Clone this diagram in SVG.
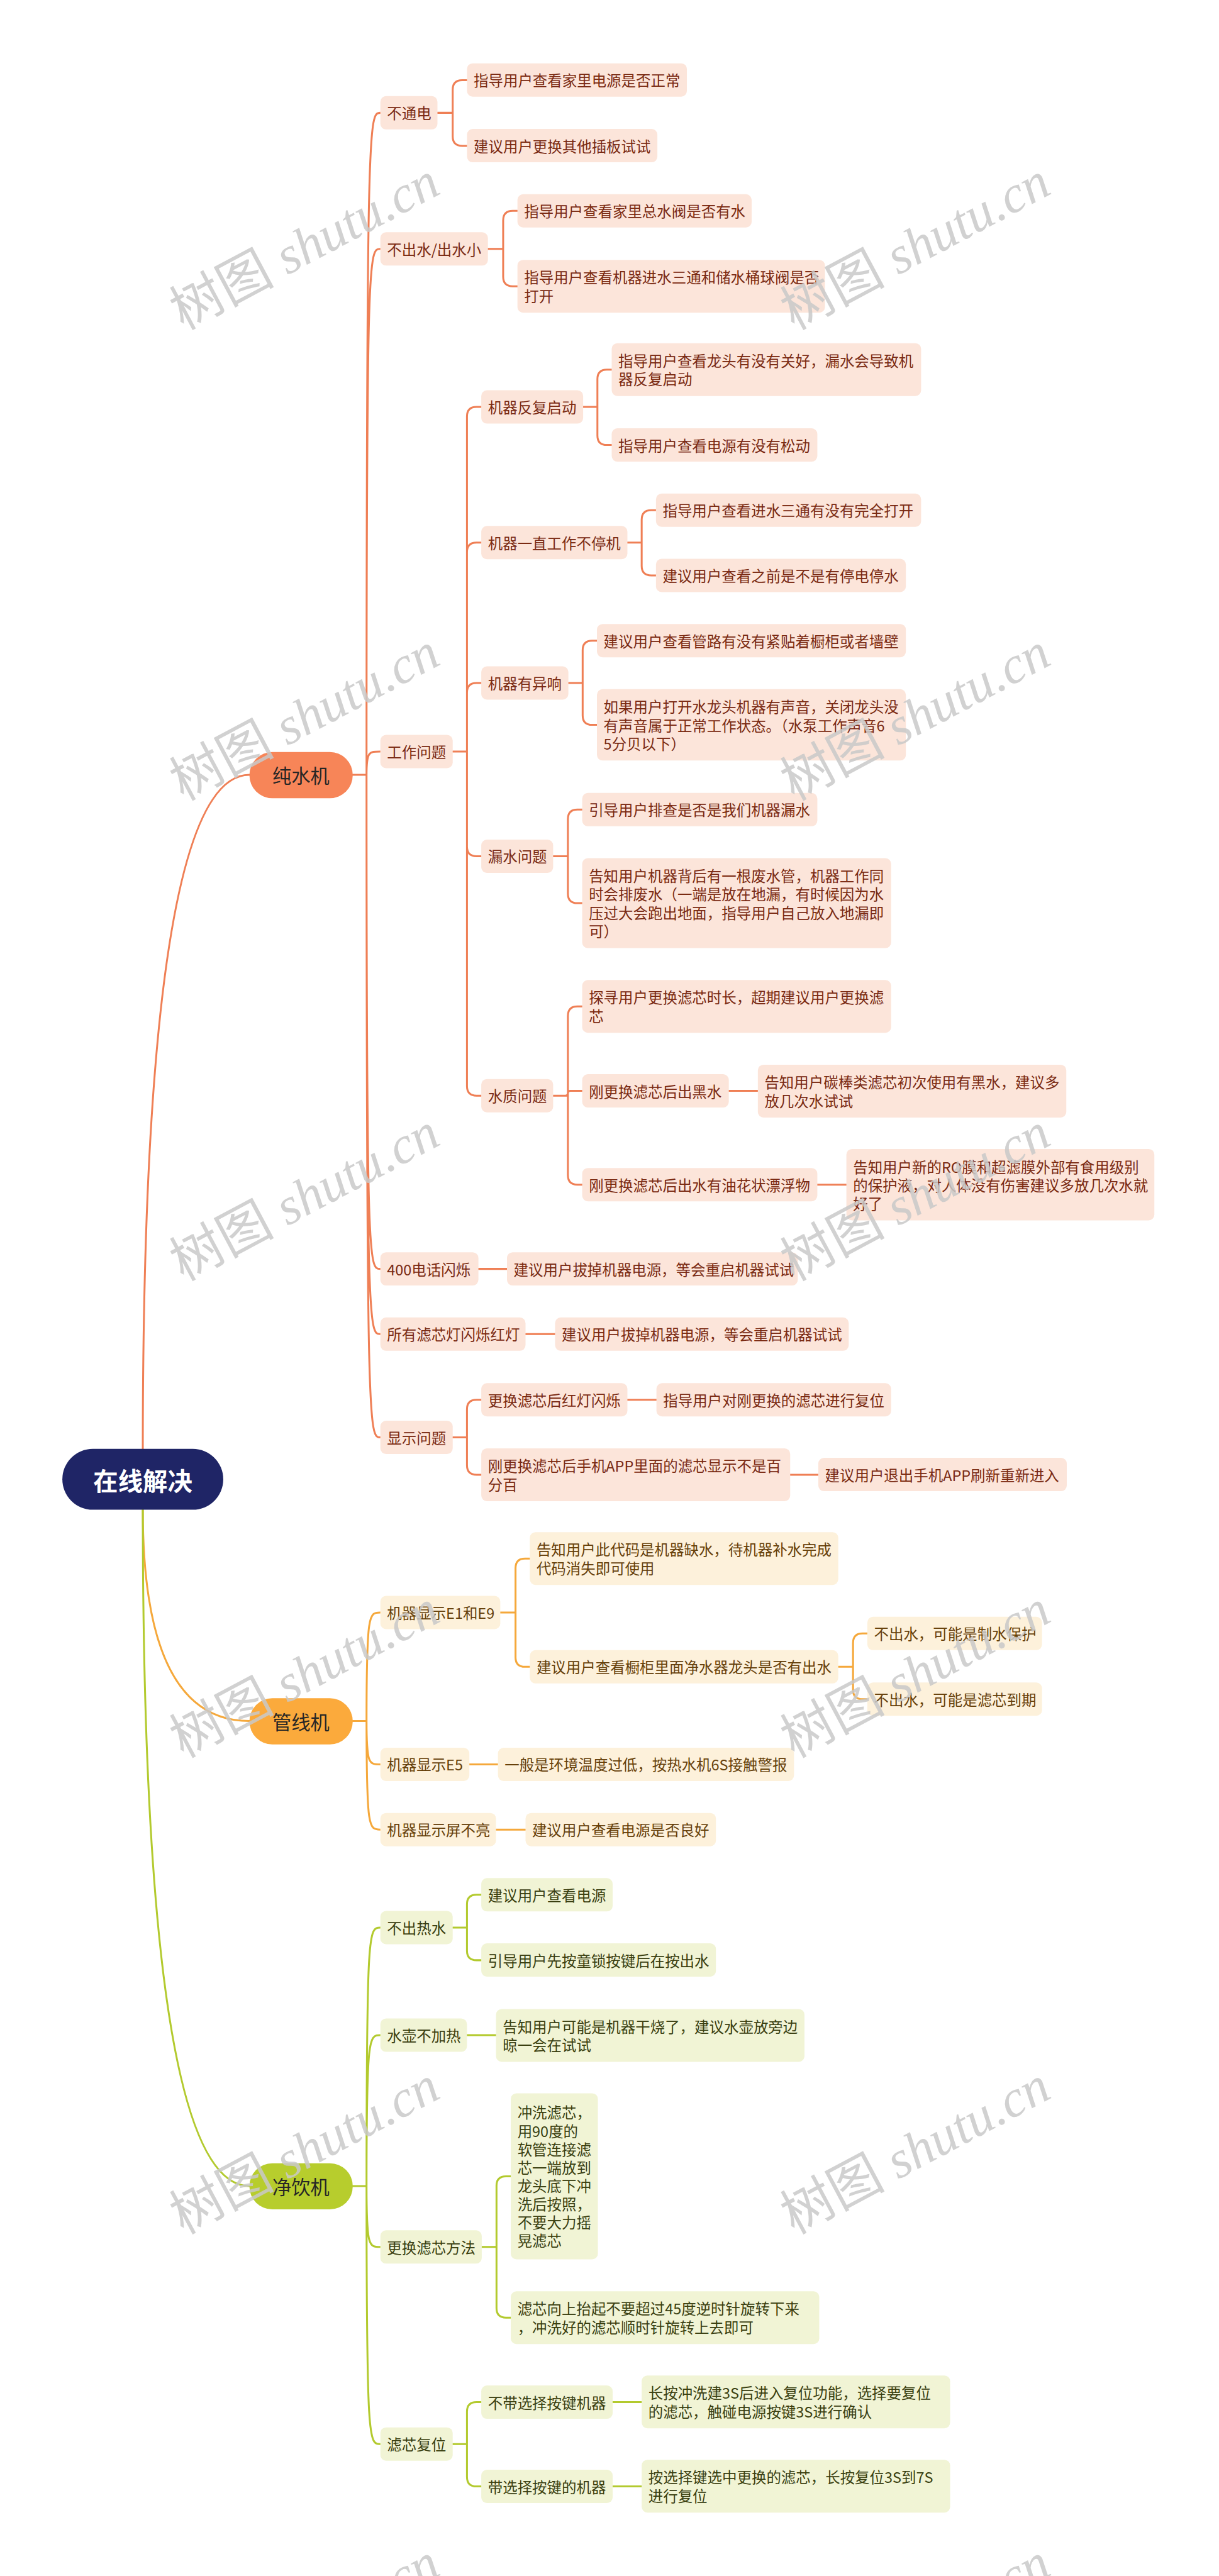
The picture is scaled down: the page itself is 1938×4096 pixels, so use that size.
<svg xmlns="http://www.w3.org/2000/svg" width="1938" height="4096" viewBox="0 0 1938 4096">
<style>
text{font-family:"Noto Sans CJK SC","Liberation Sans",sans-serif;}
.t{font-size:31px;dominant-baseline:central;}
.b1{fill:#FCE5DA;}.b2{fill:#FDF1DB;}.b3{fill:#F1F4D5;}
.x1{fill:#7A2A12;}.x2{fill:#66400A;}.x3{fill:#3A3F10;}
.c{fill:none;stroke-width:4;stroke-linecap:round;}
.c1{stroke:#EF7F55;}.c2{stroke:#F5A83B;}.c3{stroke:#B3CA2E;}
.pill{font-size:40px;fill:#262626;text-anchor:middle;dominant-baseline:central;}
.wm{font-family:"Liberation Serif","Noto Sans CJK SC",serif;font-size:110px;fill:#c9c9c9;opacity:0.85;text-anchor:middle;dominant-baseline:central;}
</style>
<rect width="1938" height="4096" fill="#ffffff"/>
<g transform="scale(0.7568)">
<g id="connectors">
<path class="c c1" d="M300 3044 C300 2200 360 1628 524 1628"/>
<path class="c c2" d="M300 3172 C300 3438 360 3616 524 3616"/>
<path class="c c3" d="M300 3172 C300 4025 360 4593 524 4593"/>
<path class="c c1" d="M741 1628 H770 M770 1628 C770 237 775 237 799 237 M770 1628 C770 523 775 523 799 523 M770 1628 C770 1579 775 1579 799 1579 M770 1628 C770 2666 775 2666 799 2666 M770 1628 C770 2803 775 2803 799 2803 M770 1628 C770 3020 775 3020 799 3020"/>
<path class="c c1" d="M919 237 H951 V188.5 Q951 168.5 971 168.5 H981 M951 237 V286.5 Q951 306.5 971 306.5 H981"/>
<path class="c c1" d="M1025 523 H1057 V463 Q1057 443 1077 443 H1087 M1057 523 V581.5 Q1057 601.5 1077 601.5 H1087"/>
<path class="c c1" d="M951 1579 H981 V875 Q981 855 1001 855 H1011 M981 1579 V1160 Q981 1140 1001 1140 H1011 M981 1579 V1455 Q981 1435 1001 1435 H1011 M981 1579 V1779 Q981 1799 1001 1799 H1011 M981 1579 V2282 Q981 2302 1001 2302 H1011"/>
<path class="c c1" d="M1225 855 H1255 V796.5 Q1255 776.5 1275 776.5 H1285 M1255 855 V915 Q1255 935 1275 935 H1285"/>
<path class="c c1" d="M1318 1140 H1348 V1092 Q1348 1072 1368 1072 H1378 M1348 1140 V1189 Q1348 1209 1368 1209 H1378"/>
<path class="c c1" d="M1194 1435 H1224 V1366 Q1224 1346 1244 1346 H1254 M1224 1435 V1503 Q1224 1523 1244 1523 H1254"/>
<path class="c c1" d="M1162 1799 H1193 V1721 Q1193 1701 1213 1701 H1223 M1193 1799 V1877.5 Q1193 1897.5 1213 1897.5 H1223"/>
<path class="c c1" d="M1162 2302 H1193 V2134.5 Q1193 2114.5 1213 2114.5 H1223 M1188 2302 Q1193 2302 1193 2297 Q1193 2292 1198 2292 H1223 M1193 2302 V2469 Q1193 2489 1213 2489 H1223"/>
<path class="c c1" d="M1531 2292 H1592 M1717 2489 H1778 M1005 2666 H1065 M1104 2803 H1166"/>
<path class="c c1" d="M951 3020 H981 V2961 Q981 2941 1001 2941 H1011 M981 3020 V3078.5 Q981 3098.5 1001 3098.5 H1011 M1318 2941 H1379 M1660 3098.5 H1719"/>
<path class="c c2" d="M741 3616 H770 M770 3616 C770 3388 775 3388 799 3388 M770 3616 C770 3707 775 3707 799 3707 M770 3616 C770 3844 775 3844 799 3844"/>
<path class="c c2" d="M1051 3388 H1083 V3294.5 Q1083 3274.5 1103 3274.5 H1113 M1083 3388 V3482 Q1083 3502 1103 3502 H1113"/>
<path class="c c2" d="M1761 3502 H1792 V3452 Q1792 3432 1812 3432 H1822 M1792 3502 V3550 Q1792 3570 1812 3570 H1822"/>
<path class="c c2" d="M986 3707 H1046 M1042 3844 H1104"/>
<path class="c c3" d="M741 4593 H770 M770 4593 C770 4050 775 4050 799 4050 M770 4593 C770 4276 775 4276 799 4276 M770 4593 C770 4721 775 4721 799 4721 M770 4593 C770 5135 775 5135 799 5135"/>
<path class="c c3" d="M951 4050 H981 V4001 Q981 3981 1001 3981 H1011 M981 4050 V4098.5 Q981 4118.5 1001 4118.5 H1011"/>
<path class="c c3" d="M981 4276 H1042"/>
<path class="c c3" d="M1012 4721 H1043 V4592.5 Q1043 4572.5 1063 4572.5 H1073 M1043 4721 V4849.5 Q1043 4869.5 1063 4869.5 H1073"/>
<path class="c c3" d="M951 5135 H981 V5067 Q981 5047 1001 5047 H1011 M981 5135 V5204 Q981 5224 1001 5224 H1011 M1287 5047 H1348 M1287 5224 H1348"/>
</g>
<g id="root"><rect x="131" y="3044" width="338" height="128" rx="64" fill="#1F2566"/><text x="300" y="3108" font-size="52" font-weight="bold" fill="#ffffff" text-anchor="middle" dominant-baseline="central">在线解决</text></g>
<g id="p1"><rect x="524" y="1580" width="217" height="97" rx="48" fill="#F78558"/><text class="pill" x="632" y="1628">纯水机</text></g>
<g id="p2"><rect x="524" y="3568" width="217" height="97" rx="48" fill="#FBAA3C"/><text class="pill" x="632" y="3616">管线机</text></g>
<g id="p3"><rect x="524" y="4545" width="217" height="97" rx="48" fill="#B7CD2D"/><text class="pill" x="632" y="4593">净饮机</text></g>

<g id="n1"><rect class="b1" x="799" y="202" width="120" height="70" rx="12"/><text class="t x1" x="813" y="237">不通电</text></g>
<g id="n1a"><rect class="b1" x="981" y="133" width="462" height="70" rx="12"/><text class="t x1" x="995" y="168">指导用户查看家里电源是否正常</text></g>
<g id="n1b"><rect class="b1" x="981" y="271" width="400" height="70" rx="12"/><text class="t x1" x="995" y="306">建议用户更换其他插板试试</text></g>
<g id="n2"><rect class="b1" x="799" y="488" width="226" height="70" rx="12"/><text class="t x1" x="813" y="523">不出水/出水小</text></g>
<g id="n2a"><rect class="b1" x="1087" y="408" width="492" height="70" rx="12"/><text class="t x1" x="1101" y="443">指导用户查看家里总水阀是否有水</text></g>
<g id="n2b"><rect class="b1" x="1087" y="546" width="646" height="111" rx="12"/><text class="t x1"><tspan x="1101" y="582">指导用户查看机器进水三通和储水桶球阀是否</tspan><tspan x="1101" y="621">打开</tspan></text></g>
<g id="n3"><rect class="b1" x="799" y="1544" width="152" height="70" rx="12"/><text class="t x1" x="813" y="1579">工作问题</text></g>
<g id="n3a"><rect class="b1" x="1011" y="820" width="214" height="70" rx="12"/><text class="t x1" x="1025" y="855">机器反复启动</text></g>
<g id="n3a1"><rect class="b1" x="1285" y="721" width="650" height="111" rx="12"/><text class="t x1"><tspan x="1299" y="757">指导用户查看龙头有没有关好，漏水会导致机</tspan><tspan x="1299" y="796">器反复启动</tspan></text></g>
<g id="n3a2"><rect class="b1" x="1285" y="900" width="432" height="70" rx="12"/><text class="t x1" x="1299" y="935">指导用户查看电源有没有松动</text></g>
<g id="n3b"><rect class="b1" x="1011" y="1105" width="307" height="70" rx="12"/><text class="t x1" x="1025" y="1140">机器一直工作不停机</text></g>
<g id="n3b1"><rect class="b1" x="1378" y="1037" width="557" height="70" rx="12"/><text class="t x1" x="1392" y="1072">指导用户查看进水三通有没有完全打开</text></g>
<g id="n3b2"><rect class="b1" x="1378" y="1174" width="525" height="70" rx="12"/><text class="t x1" x="1392" y="1209">建议用户查看之前是不是有停电停水</text></g>
<g id="n3c"><rect class="b1" x="1011" y="1400" width="183" height="70" rx="12"/><text class="t x1" x="1025" y="1435">机器有异响</text></g>
<g id="n3c1"><rect class="b1" x="1254" y="1311" width="649" height="70" rx="12"/><text class="t x1" x="1268" y="1346">建议用户查看管路有没有紧贴着橱柜或者墙壁</text></g>
<g id="n3c2"><rect class="b1" x="1254" y="1448" width="649" height="150" rx="12"/><text class="t x1"><tspan x="1268" y="1484.5">如果用户打开水龙头机器有声音，关闭龙头没</tspan><tspan x="1268" y="1523">有声音属于正常工作状态。（水泵工作声音6</tspan><tspan x="1268" y="1561.5">5分贝以下）</tspan></text></g>
<g id="n3d"><rect class="b1" x="1011" y="1764" width="151" height="70" rx="12"/><text class="t x1" x="1025" y="1799">漏水问题</text></g>
<g id="n3d1"><rect class="b1" x="1223" y="1666" width="494" height="70" rx="12"/><text class="t x1" x="1237" y="1701">引导用户排查是否是我们机器漏水</text></g>
<g id="n3d2"><rect class="b1" x="1223" y="1803" width="649" height="189" rx="12"/><text class="t x1"><tspan x="1237" y="1839.75">告知用户机器背后有一根废水管，机器工作同</tspan><tspan x="1237" y="1878.25">时会排废水（一端是放在地漏，有时候因为水</tspan><tspan x="1237" y="1916.75">压过大会跑出地面，指导用户自己放入地漏即</tspan><tspan x="1237" y="1955.25">可）</tspan></text></g>
<g id="n3e"><rect class="b1" x="1011" y="2267" width="151" height="70" rx="12"/><text class="t x1" x="1025" y="2302">水质问题</text></g>
<g id="n3e1"><rect class="b1" x="1223" y="2059" width="649" height="111" rx="12"/><text class="t x1"><tspan x="1237" y="2095">探寻用户更换滤芯时长，超期建议用户更换滤</tspan><tspan x="1237" y="2134">芯</tspan></text></g>
<g id="n3e2"><rect class="b1" x="1223" y="2257" width="308" height="70" rx="12"/><text class="t x1" x="1237" y="2292">刚更换滤芯后出黑水</text></g>
<g id="n3e2a"><rect class="b1" x="1592" y="2237" width="648" height="111" rx="12"/><text class="t x1"><tspan x="1606" y="2273">告知用户碳棒类滤芯初次使用有黑水，建议多</tspan><tspan x="1606" y="2312">放几次水试试</tspan></text></g>
<g id="n3e3"><rect class="b1" x="1223" y="2454" width="494" height="70" rx="12"/><text class="t x1" x="1237" y="2489">刚更换滤芯后出水有油花状漂浮物</text></g>
<g id="n3e3a"><rect class="b1" x="1778" y="2414" width="647" height="150" rx="12"/><text class="t x1"><tspan x="1792" y="2450.5">告知用户新的RO膜和超滤膜外部有食用级别</tspan><tspan x="1792" y="2489">的保护液，对人体没有伤害建议多放几次水就</tspan><tspan x="1792" y="2527.5">好了</tspan></text></g>
<g id="n4"><rect class="b1" x="799" y="2631" width="206" height="70" rx="12"/><text class="t x1" x="813" y="2666">400电话闪烁</text></g>
<g id="n4a"><rect class="b1" x="1065" y="2631" width="611" height="70" rx="12"/><text class="t x1" x="1079" y="2666">建议用户拔掉机器电源，等会重启机器试试</text></g>
<g id="n5"><rect class="b1" x="799" y="2768" width="305" height="70" rx="12"/><text class="t x1" x="813" y="2803">所有滤芯灯闪烁红灯</text></g>
<g id="n5a"><rect class="b1" x="1166" y="2768" width="617" height="70" rx="12"/><text class="t x1" x="1180" y="2803">建议用户拔掉机器电源，等会重启机器试试</text></g>
<g id="n6"><rect class="b1" x="799" y="2985" width="152" height="70" rx="12"/><text class="t x1" x="813" y="3020">显示问题</text></g>
<g id="n6a"><rect class="b1" x="1011" y="2906" width="307" height="70" rx="12"/><text class="t x1" x="1025" y="2941">更换滤芯后红灯闪烁</text></g>
<g id="n6a1"><rect class="b1" x="1379" y="2906" width="493" height="70" rx="12"/><text class="t x1" x="1393" y="2941">指导用户对刚更换的滤芯进行复位</text></g>
<g id="n6b"><rect class="b1" x="1011" y="3043" width="649" height="111" rx="12"/><text class="t x1"><tspan x="1025" y="3079">刚更换滤芯后手机APP里面的滤芯显示不是百</tspan><tspan x="1025" y="3118">分百</tspan></text></g>
<g id="n6b1"><rect class="b1" x="1719" y="3063" width="522" height="70" rx="12"/><text class="t x1" x="1733" y="3098">建议用户退出手机APP刷新重新进入</text></g>

<g id="m1"><rect class="b2" x="799" y="3353" width="252" height="70" rx="12"/><text class="t x2" x="813" y="3388">机器显示E1和E9</text></g>
<g id="m1a"><rect class="b2" x="1113" y="3219" width="648" height="111" rx="12"/><text class="t x2"><tspan x="1127" y="3255">告知用户此代码是机器缺水，待机器补水完成</tspan><tspan x="1127" y="3294">代码消失即可使用</tspan></text></g>
<g id="m1b"><rect class="b2" x="1113" y="3467" width="648" height="70" rx="12"/><text class="t x2" x="1127" y="3502">建议用户查看橱柜里面净水器龙头是否有出水</text></g>
<g id="m1b1"><rect class="b2" x="1822" y="3397" width="367" height="70" rx="12"/><text class="t x2" x="1836" y="3432">不出水，可能是制水保护</text></g>
<g id="m1b2"><rect class="b2" x="1822" y="3535" width="367" height="70" rx="12"/><text class="t x2" x="1836" y="3570">不出水，可能是滤芯到期</text></g>
<g id="m2"><rect class="b2" x="799" y="3672" width="187" height="70" rx="12"/><text class="t x2" x="813" y="3707">机器显示E5</text></g>
<g id="m2a"><rect class="b2" x="1046" y="3672" width="622" height="70" rx="12"/><text class="t x2" x="1060" y="3707">一般是环境温度过低，按热水机6S接触警报</text></g>
<g id="m3"><rect class="b2" x="799" y="3809" width="243" height="70" rx="12"/><text class="t x2" x="813" y="3844">机器显示屏不亮</text></g>
<g id="m3a"><rect class="b2" x="1104" y="3809" width="400" height="70" rx="12"/><text class="t x2" x="1118" y="3844">建议用户查看电源是否良好</text></g>

<g id="k1"><rect class="b3" x="799" y="4015" width="152" height="70" rx="12"/><text class="t x3" x="813" y="4050">不出热水</text></g>
<g id="k1a"><rect class="b3" x="1011" y="3946" width="276" height="70" rx="12"/><text class="t x3" x="1025" y="3981">建议用户查看电源</text></g>
<g id="k1b"><rect class="b3" x="1011" y="4083" width="493" height="70" rx="12"/><text class="t x3" x="1025" y="4118">引导用户先按童锁按键后在按出水</text></g>
<g id="k2"><rect class="b3" x="799" y="4241" width="182" height="70" rx="12"/><text class="t x3" x="813" y="4276">水壶不加热</text></g>
<g id="k2a"><rect class="b3" x="1042" y="4221" width="648" height="111" rx="12"/><text class="t x3"><tspan x="1056" y="4257">告知用户可能是机器干烧了，建议水壶放旁边</tspan><tspan x="1056" y="4296">晾一会在试试</tspan></text></g>
<g id="k3"><rect class="b3" x="799" y="4686" width="213" height="70" rx="12"/><text class="t x3" x="813" y="4721">更换滤芯方法</text></g>
<g id="k3a"><rect class="b3" x="1073" y="4398" width="183" height="349" rx="12"/><text class="t x3"><tspan x="1087" y="4437.75">冲洗滤芯，</tspan><tspan x="1087" y="4476.25">用90度的</tspan><tspan x="1087" y="4514.75">软管连接滤</tspan><tspan x="1087" y="4553.25">芯一端放到</tspan><tspan x="1087" y="4591.75">龙头底下冲</tspan><tspan x="1087" y="4630.25">洗后按照，</tspan><tspan x="1087" y="4668.75">不要大力摇</tspan><tspan x="1087" y="4707.25">晃滤芯</tspan></text></g>
<g id="k3b"><rect class="b3" x="1073" y="4814" width="648" height="111" rx="12"/><text class="t x3"><tspan x="1087" y="4850">滤芯向上抬起不要超过45度逆时针旋转下来</tspan><tspan x="1087" y="4889">，冲洗好的滤芯顺时针旋转上去即可</tspan></text></g>
<g id="k4"><rect class="b3" x="799" y="5100" width="152" height="70" rx="12"/><text class="t x3" x="813" y="5135">滤芯复位</text></g>
<g id="k4a"><rect class="b3" x="1011" y="5012" width="276" height="70" rx="12"/><text class="t x3" x="1025" y="5047">不带选择按键机器</text></g>
<g id="k4a1"><rect class="b3" x="1348" y="4991" width="648" height="111" rx="12"/><text class="t x3"><tspan x="1362" y="5027">长按冲洗建3S后进入复位功能，选择要复位</tspan><tspan x="1362" y="5066">的滤芯，触碰电源按键3S进行确认</tspan></text></g>
<g id="k4b"><rect class="b3" x="1011" y="5189" width="276" height="70" rx="12"/><text class="t x3" x="1025" y="5224">带选择按键的机器</text></g>
<g id="k4b1"><rect class="b3" x="1348" y="5168" width="648" height="111" rx="12"/><text class="t x3"><tspan x="1362" y="5204">按选择键选中更换的滤芯，长按复位3S到7S</tspan><tspan x="1362" y="5243">进行复位</tspan></text></g>

<g id="watermarks">
<text class="wm" transform="translate(640 517) rotate(-28)">树图 <tspan font-style="italic">shutu.cn</tspan></text>
<text class="wm" transform="translate(1923 517) rotate(-28)">树图 <tspan font-style="italic">shutu.cn</tspan></text>
<text class="wm" transform="translate(640 1506) rotate(-28)">树图 <tspan font-style="italic">shutu.cn</tspan></text>
<text class="wm" transform="translate(1923 1506) rotate(-28)">树图 <tspan font-style="italic">shutu.cn</tspan></text>
<text class="wm" transform="translate(640 2515) rotate(-28)">树图 <tspan font-style="italic">shutu.cn</tspan></text>
<text class="wm" transform="translate(1923 2515) rotate(-28)">树图 <tspan font-style="italic">shutu.cn</tspan></text>
<text class="wm" transform="translate(640 3517) rotate(-28)">树图 <tspan font-style="italic">shutu.cn</tspan></text>
<text class="wm" transform="translate(1923 3517) rotate(-28)">树图 <tspan font-style="italic">shutu.cn</tspan></text>
<text class="wm" transform="translate(640 4518) rotate(-28)">树图 <tspan font-style="italic">shutu.cn</tspan></text>
<text class="wm" transform="translate(1923 4518) rotate(-28)">树图 <tspan font-style="italic">shutu.cn</tspan></text>
<text class="wm" transform="translate(640 5520) rotate(-28)">树图 <tspan font-style="italic">shutu.cn</tspan></text>
<text class="wm" transform="translate(1923 5520) rotate(-28)">树图 <tspan font-style="italic">shutu.cn</tspan></text>
</g>
</g>
</svg>
